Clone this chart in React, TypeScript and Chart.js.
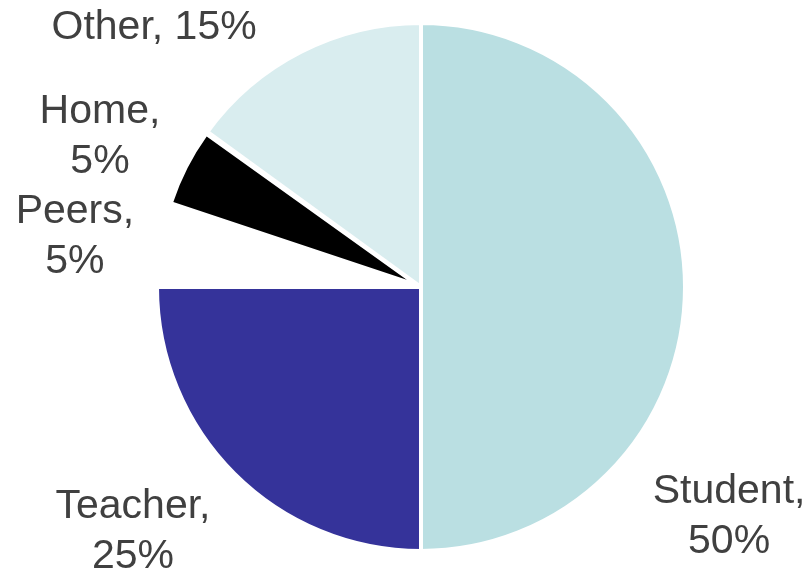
import React, { useEffect, useRef } from "react";
import { Chart, registerables } from "chart.js";

Chart.register(...registerables);

const categories = ["Student", "Teacher", "Peers", "Home", "Other"];
const shares = [50, 25, 5, 5, 15];
const sliceColors = ["#BADFE2", "#35339A", "#FFFFFF", "#000000", "#D9EDEF"];
const sliceBorders = [4, 4, 4, 0, 4];
// Chart.js translates an arc by offset/4, so 64 moves the slice out by 16px
const sliceOffsets = [0, 0, 0, 64, 0];
const sliceRadiusScale = [1, 1, 1, 0.89, 1];
// label block centre, relative to pie centre, in units of the outer radius
const labelDX = [1.167, -1.091, -1.311, -1.216, -1.011];
const labelDY = [0.871, 0.928, -0.189, -0.568, -0.981];
const labelLines = [
  ["Student,", "50%"],
  ["Teacher,", "25%"],
  ["Peers,", "5%"],
  ["Home,", "5%"],
  ["Other, 15%"],
];

const radiusPlugin = {
  id: "sliceRadius",
  beforeDatasetsDraw(chart: any) {
    const meta = chart.getDatasetMeta(0);
    const base = meta.controller.outerRadius;
    meta.data.forEach((arc: any, i: number) => {
      arc.outerRadius = base * sliceRadiusScale[i];
    });
  },
};

const labelPlugin = {
  id: "sliceLabels",
  afterDatasetsDraw(chart: any) {
    const meta = chart.getDatasetMeta(0);
    const base = meta.controller.outerRadius;
    const ctx = chart.ctx;
    ctx.save();
    ctx.font = '41px "Liberation Sans", Arial, sans-serif';
    ctx.fillStyle = "#404040";
    ctx.textAlign = "center";
    ctx.textBaseline = "middle";
    const lineH = 50;
    meta.data.forEach((arc: any, i: number) => {
      const cx = arc.x + labelDX[i] * base;
      const cy = arc.y + labelDY[i] * base;
      const lines = labelLines[i];
      const top = cy - ((lines.length - 1) * lineH) / 2;
      lines.forEach((t, j) => ctx.fillText(t, cx, top + j * lineH));
    });
    ctx.restore();
  },
};

export default function App() {
  const ref = useRef<HTMLCanvasElement | null>(null);
  useEffect(() => {
    if (!ref.current) return;
    const chart = new Chart(ref.current, {
      type: "pie",
      data: {
        labels: categories,
        datasets: [
          {
            data: shares,
            backgroundColor: sliceColors,
            borderColor: "#FFFFFF",
            borderWidth: sliceBorders,
            offset: sliceOffsets,
            hoverOffset: 0,
          },
        ],
      },
      options: {
        responsive: false,
        animation: false,
        radius: 264,
        layout: { padding: { left: 34, right: 0, top: 0, bottom: 6 } },
        plugins: {
          legend: { display: false },
          tooltip: { enabled: false },
        },
        events: [],
      } as any,
      plugins: [radiusPlugin, labelPlugin],
    });
    return () => chart.destroy();
  }, []);
  return (
    <div style={{ position: "absolute", left: 0, top: 0, width: 808, height: 580, background: "#fff" }}>
      <canvas ref={ref} width={808} height={580} />
    </div>
  );
}
